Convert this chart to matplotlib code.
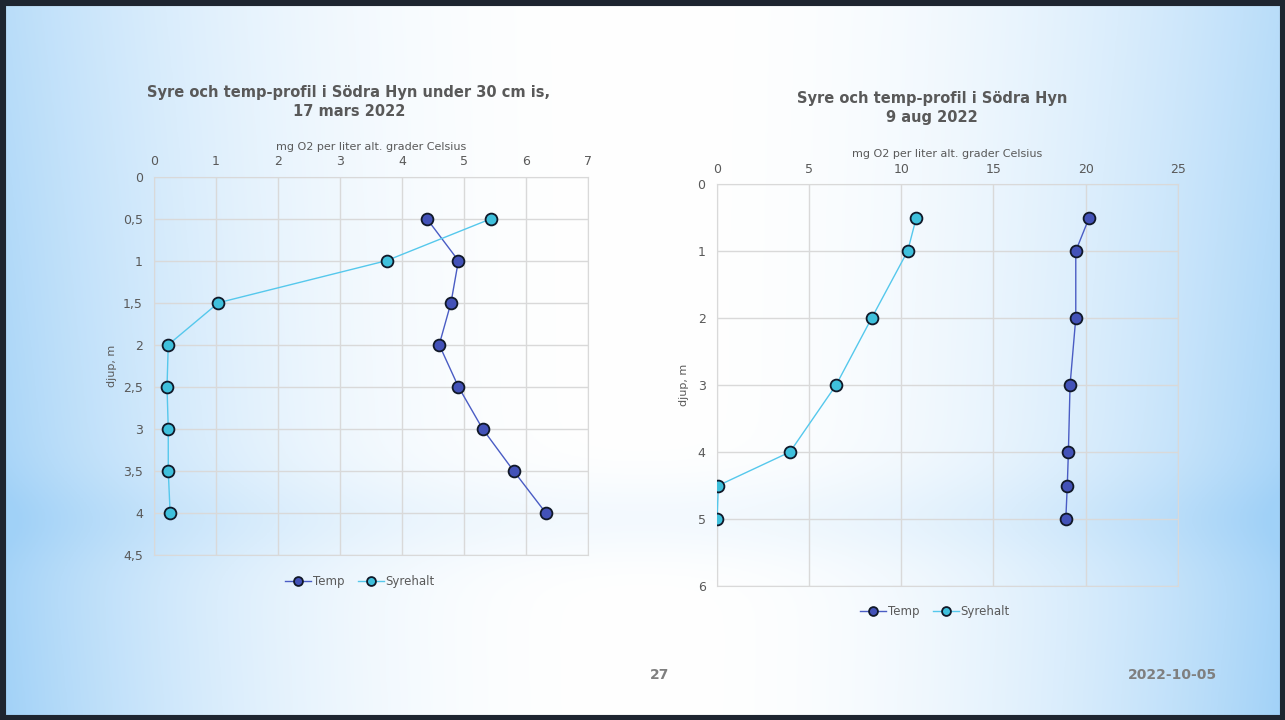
import matplotlib.pyplot as plt
import numpy as np
from matplotlib.ticker import FuncFormatter

# Mars 2022, under 30 cm is
djup_mars = [0.5, 1, 1.5, 2, 2.5, 3, 3.5, 4]
temp_mars = [4.40, 4.91, 4.79, 4.60, 4.91, 5.30, 5.80, 6.32]
syre_mars = [5.44, 3.75, 1.04, 0.23, 0.21, 0.23, 0.23, 0.26]

# 9 aug 2022
djup_aug = [0.5, 1, 2, 3, 4, 4.5, 5]
temp_aug = [20.19, 19.46, 19.46, 19.15, 19.06, 19.0, 18.92]
syre_aug = [10.82, 10.35, 8.40, 6.47, 3.97, 0.09, 0.02]

titel_mars = "Syre och temp-profil i Södra Hyn under 30 cm is,\n17 mars 2022"
titel_aug = "Syre och temp-profil i Södra Hyn\n9 aug 2022"
xtext = "mg O2 per liter alt. grader Celsius"
ytext = "djup, m"

GRAY = "#595959"
GRID = "#d9d9d9"
TEMP_C = "#4352b8"
TEMP_L = "#4a5cc4"
SYRE_C = "#3fc0dc"
SYRE_L = "#55c8ec"

W, H = 1285, 720
fig = plt.figure(figsize=(W / 100, H / 100), dpi=100)

# slide background: blue at the edges, white in the middle
bg = fig.add_axes([0, 0, 1, 1])
xx, yy = np.meshgrid(np.linspace(0, 1, 400), np.linspace(0, 1, 300))
t = np.clip(np.abs(xx - 0.5) * 2, 0, 1) ** 2.2
t = t * (0.75 + 0.25 * yy)
band = np.exp(-((yy - 0.72) / 0.06) ** 2) * 0.12
t = np.clip(t + band, 0, 1)
edge = np.array([0.63, 0.82, 0.97])
white = np.array([1.0, 1.0, 1.0])
img = white + (edge - white) * t[..., None]
bg.imshow(img, extent=[0, 1, 0, 1], aspect="auto", origin="upper")
bg.set_xlim(0, 1)
bg.set_ylim(0, 1)
bg.axis("off")
bg.add_patch(plt.Rectangle((0, 0), 1, 1, fill=False, edgecolor="#1e2530",
                           linewidth=8, transform=bg.transAxes))


def comma(v, pos):
    return ("%g" % v).replace(".", ",")


def chart(rect, djup, temp, syre, xmax, xstep, ymax, ystep, legend_y, legend_x,
          ylab_x):
    ax = fig.add_axes(rect)
    ax.patch.set_alpha(0)
    ax.plot(temp, djup, "-o", color=TEMP_L, lw=1, markersize=8.5,
            markerfacecolor=TEMP_C, markeredgecolor="#101828",
            markeredgewidth=1.3, label="Temp", zorder=3)
    ax.plot(syre, djup, "-o", color=SYRE_L, lw=1, markersize=8.5,
            markerfacecolor=SYRE_C, markeredgecolor="#101828",
            markeredgewidth=1.3, label="Syrehalt", zorder=3)
    ax.set_xlim(0, xmax)
    ax.set_ylim(ymax, 0)
    ax.set_xticks(np.arange(0, xmax + 0.01, xstep))
    ax.set_yticks(np.arange(0, ymax + 0.01, ystep))
    ax.xaxis.tick_top()
    ax.xaxis.set_label_position("top")
    ax.yaxis.set_major_formatter(FuncFormatter(comma))
    ax.tick_params(length=0, labelsize=9, colors=GRAY, pad=8)
    ax.tick_params(axis="x", pad=6)
    ax.grid(True, color=GRID, lw=1)
    for s in ax.spines.values():
        s.set_color(GRID)
    ax.set_xlabel(xtext, fontsize=8, color=GRAY, labelpad=4)
    ax.set_ylabel(ytext, fontsize=8, color=GRAY)
    ax.yaxis.set_label_coords(ylab_x, 0.5)
    fig.legend(handles=ax.get_lines(), loc="center",
               bbox_to_anchor=(legend_x, legend_y), ncol=2, frameon=False,
               fontsize=8.5, labelcolor=GRAY, handlelength=2.2,
               handletextpad=0.1, columnspacing=1.2, markerscale=0.75)
    return ax


chart([154 / W, 1 - 555 / H, 434 / W, 378.4 / H], djup_mars, temp_mars,
      syre_mars, 7, 1, 4.5, 0.5, 1 - 582 / H, 360 / W, -0.085)
chart([716.7 / W, 1 - 586 / H, 461.3 / W, 402 / H], djup_aug, temp_aug,
      syre_aug, 25, 5, 6, 1, 1 - 612 / H, 935 / W, -0.06)

fig.text(349 / W, 1 - 102 / H, titel_mars, ha="center", va="center",
         fontsize=10.5, fontweight="bold", color=GRAY, linespacing=1.3)
fig.text(932 / W, 1 - 108 / H, titel_aug, ha="center", va="center",
         fontsize=10.5, fontweight="bold", color=GRAY, linespacing=1.3)

fig.text(660 / W, 1 - 675 / H, "27", ha="center", va="center",
         fontsize=10, fontweight="bold", color="#7f7f7f")
fig.text(1172 / W, 1 - 675 / H, "2022-10-05", ha="center", va="center",
         fontsize=10, fontweight="bold", color="#7f7f7f")

fig.savefig("out.png", dpi=100)
